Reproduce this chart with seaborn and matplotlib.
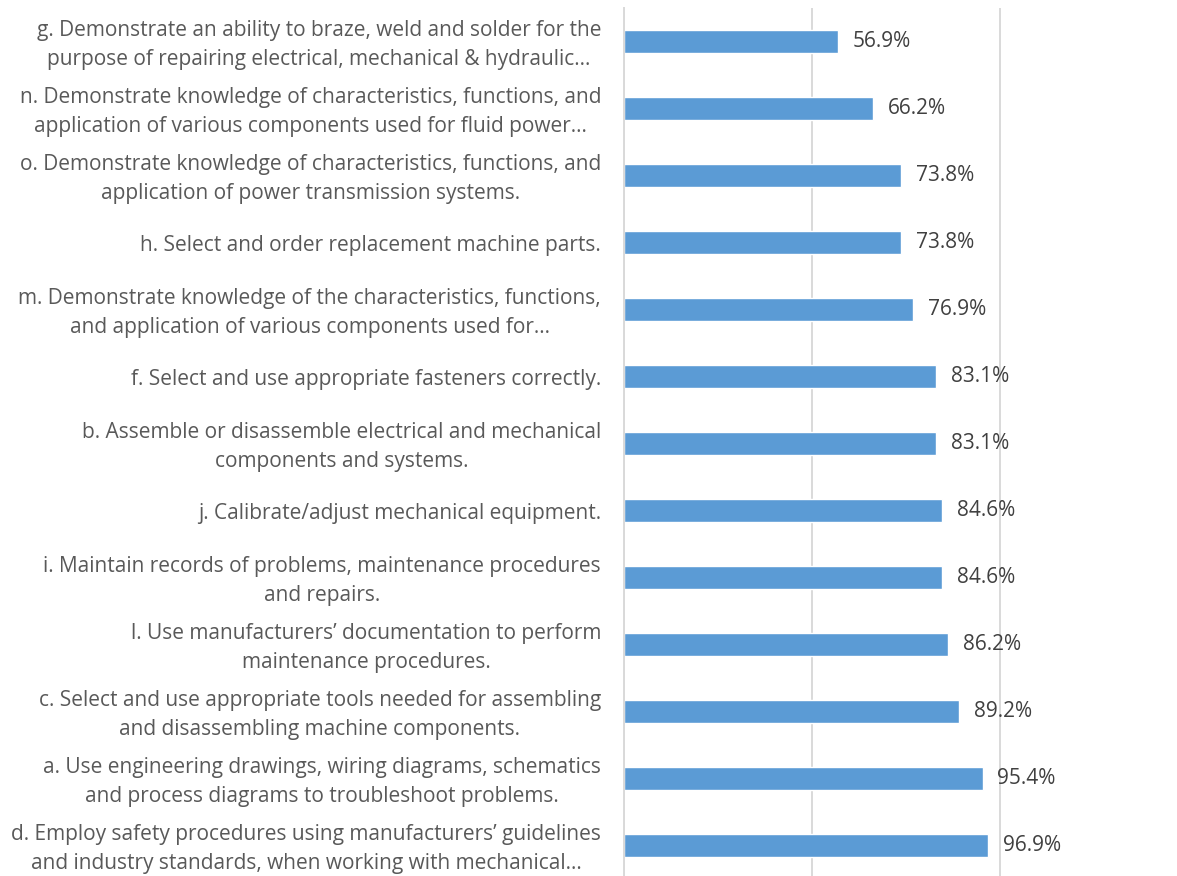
import numpy as np
import pandas as pd
import matplotlib
matplotlib.use("Agg")
import matplotlib.pyplot as plt
import matplotlib.transforms as mtransforms
import seaborn as sns

# ----------------------------------------------------
# Data (top to bottom)
# ----------------------------------------------------
labels = [
    "g. Demonstrate an ability to braze, weld and solder for the\npurpose of repairing electrical, mechanical & hydraulic…",
    "n. Demonstrate knowledge of characteristics, functions, and\napplication of various components used for fluid power…",
    "o. Demonstrate knowledge of characteristics, functions, and\napplication of power transmission systems.",
    "h. Select and order replacement machine parts.",
    "m. Demonstrate knowledge of the characteristics, functions,\nand application of various components used for…",
    "f. Select and use appropriate fasteners correctly.",
    "b. Assemble or disassemble electrical and mechanical\ncomponents and systems.",
    "j. Calibrate/adjust mechanical equipment.",
    "i. Maintain records of problems, maintenance procedures\nand repairs.",
    "l. Use manufacturers’ documentation to perform\nmaintenance procedures.",
    "c. Select and use appropriate tools needed for assembling\nand disassembling machine components.",
    "a. Use engineering drawings, wiring diagrams, schematics\nand process diagrams to troubleshoot problems.",
    "d. Employ safety procedures using manufacturers’ guidelines\nand industry standards, when working with mechanical…",
]
percent = [56.9, 66.2, 73.8, 73.8, 76.9, 83.1, 83.1, 84.6, 84.6, 86.2, 89.2, 95.4, 96.9]
grid_ticks = [0, 50, 100]

df = pd.DataFrame({"Outcome": labels, "Percent": percent})

# ----------------------------------------------------
# Styling
# ----------------------------------------------------
sns.set_style("white")
plt.rcParams["font.family"] = ["Open Sans", "DejaVu Sans"]

bar_color = "#5b9bd5"
grid_color = "#d9d9d9"

fig = plt.figure(figsize=(11.77, 8.76), dpi=100)
W, H = 1177, 876
left_px, top_px, bottom_px = 624, 8, 879
ax = fig.add_axes([left_px / W, (H - bottom_px) / H, (W - left_px) / W, (bottom_px - top_px) / H])

sns.barplot(data=df, x="Percent", y="Outcome", orient="h", color=bar_color,
            saturation=1, width=0.345, ax=ax)

ax.set_xlim(0, (W - left_px) / 3.76)
ax.set_ylim(len(labels) - 0.5, -0.5)
ax.set_xticks(grid_ticks)
ax.set_xticklabels([])
ax.grid(axis="x", color=grid_color, linewidth=1.4)
ax.set_axisbelow(True)
for s in ["top", "right", "bottom"]:
    ax.spines[s].set_visible(False)
ax.spines["left"].set_color(grid_color)
ax.spines["left"].set_linewidth(1.4)

ax.set_xlabel("")
ax.set_ylabel("")
ax.tick_params(axis="y", length=0, pad=16.5, labelsize=15, labelcolor="#595959")
ax.tick_params(axis="x", length=0)
# wrapped labels sit a little low with center_baseline, nudge them up
nudge = mtransforms.ScaledTranslation(0, 3 / 100, fig.dpi_scale_trans)
for t in ax.get_yticklabels():
    t.set_multialignment("center")
    t.set_linespacing(1.5)
    if "\n" in t.get_text():
        t.set_transform(t.get_transform() + nudge)

# Value labels
ax.bar_label(ax.containers[0], labels=[f"{v:.1f}%" for v in percent],
             padding=10.5, fontsize=15, color="#404040")

fig.savefig("out.png", dpi=100, facecolor="white")
